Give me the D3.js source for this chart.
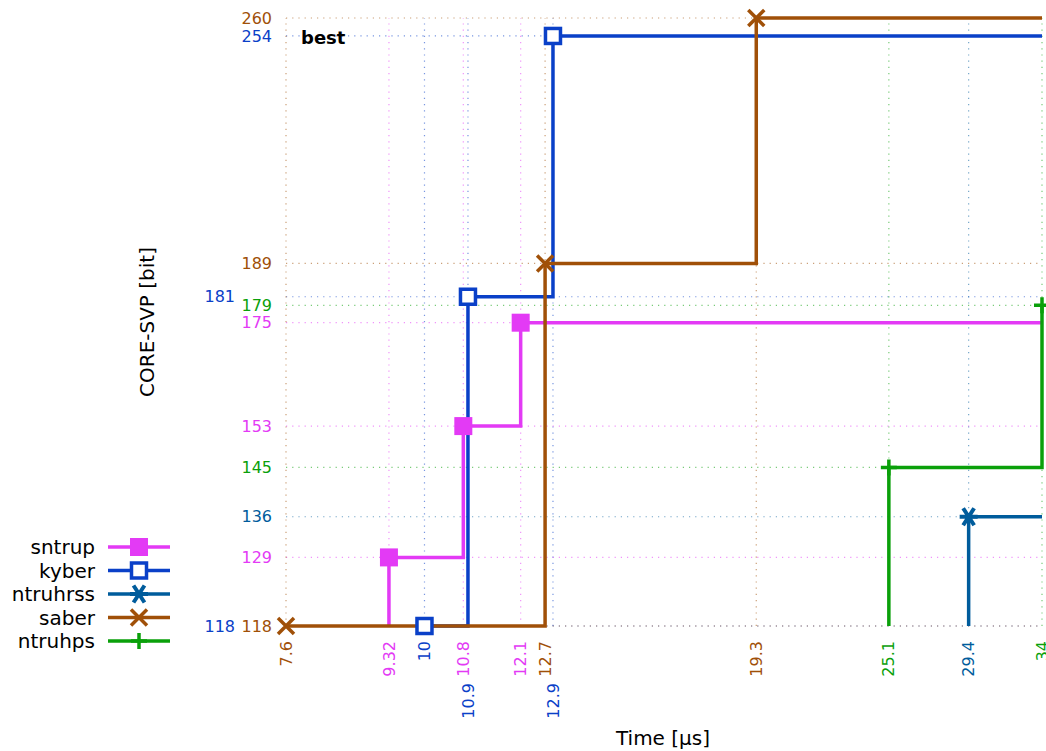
<!DOCTYPE html>
<html lang="en">
<head>
<meta charset="UTF-8">
<title>CORE-SVP vs time</title>
<script src="https://cdn.jsdelivr.net/npm/d3@7"></script>
<style>
    body { margin: 0; background: #fff; }
    svg text { font-family: "DejaVu Sans", sans-serif; }
    .grid { stroke-width: 1.2; stroke-dasharray: 1.2 5; fill: none; stroke-opacity: 0.55; }
    .front { fill: none; stroke-width: 3.5; stroke-linejoin: miter; }
</style>
</head>
<body>
<script>
    // series, in legend order
    const names = ["sntrup", "kyber", "ntruhrss", "saber", "ntruhps"]
    const colors = ["#e33af5", "#0a40c8", "#005c9c", "#a05008", "#0aa00a"]
    const symbols = ["square", "box", "star", "cross", "plus"]
    const times = [
        [9.32, 10.8, 12.1],
        [10, 10.9, 12.9],
        [29.4],
        [7.6, 12.7, 19.3],
        [25.1, 34]
    ]
    const bits = [
        [129, 153, 175],
        [118, 181, 254],
        [136],
        [118, 189, 260],
        [145, 179]
    ]
    const xTickLabels = [["9.32", "10.8", "12.1"], ["10", "10.9", "12.9"], ["29.4"], ["7.6", "12.7", "19.3"], ["25.1", "34"]]
    const drawOrder = [1, 0, 3, 2, 4]
    const labelOrder = [0, 3, 2, 4, 1]

    const W = 1046, H = 751
    const x = d3.scaleLog().domain([7.6, 34]).range([286, 1042])
    const y = d3.scaleLog().domain([118, 260]).range([626, 18])
    const xMax = x.domain()[1], yMin = y.domain()[0]

    const svg = d3.select("body").append("svg")
        .attr("width", W)
        .attr("height", H)

    // grid lines, one per point
    const grid = svg.append("g")
    drawOrder.forEach(i => {
        times[i].forEach((t, j) => {
            grid.append("line").attr("class", "grid").attr("stroke", colors[i])
                .attr("x1", x(t)).attr("x2", x(t)).attr("y1", y.range()[0]).attr("y2", y.range()[1])
            grid.append("line").attr("class", "grid").attr("stroke", colors[i])
                .attr("x1", x.range()[0]).attr("x2", x.range()[1]).attr("y1", y(bits[i][j])).attr("y2", y(bits[i][j]))
        })
    })

    // tick labels, shifted away when they would overlap
    const placedY = [], placedX = []
    labelOrder.forEach(i => {
        times[i].forEach((t, j) => {
            const b = bits[i][j]
            const py = y(b)
            const yShift = placedY.some(p => Math.abs(p - py) < 14) ? 37 : 0
            placedY.push(py)
            svg.append("text")
                .attr("x", 272 - yShift).attr("y", py).attr("dy", "0.35em")
                .attr("text-anchor", "end").attr("font-size", 16)
                .attr("fill", colors[i]).text(b)
            const px = x(t)
            const xShift = placedX.some(p => Math.abs(p - px) < 14) ? 42 : 0
            placedX.push(px)
            svg.append("text")
                .attr("transform", "translate(" + px + "," + (641 + xShift) + ") rotate(-90)")
                .attr("dy", "0.35em")
                .attr("text-anchor", "end").attr("font-size", 16)
                .attr("fill", colors[i]).text(xTickLabels[i][j])
        })
    })

    function marker(g, kind, color, cx, cy) {
        const m = g.append("g").attr("transform", "translate(" + cx + "," + cy + ")")
        if (kind === "square") {
            m.append("rect").attr("x", -9).attr("y", -9).attr("width", 18).attr("height", 18).attr("fill", color)
        } else if (kind === "box") {
            m.append("rect").attr("x", -7.5).attr("y", -7.5).attr("width", 15).attr("height", 15)
                .attr("fill", "#fff").attr("stroke", color).attr("stroke-width", 3.5)
        } else if (kind === "cross") {
            m.append("path").attr("d", "M-8,-8L8,8M-8,8L8,-8").attr("stroke", color).attr("stroke-width", 3.5)
        } else if (kind === "plus") {
            m.append("path").attr("d", "M-8,0L8,0M0,-8L0,8").attr("stroke", color).attr("stroke-width", 3.5)
        } else if (kind === "star") {
            m.append("path").attr("d", "M-9,0L9,0M-5.5,-8.5L5.5,8.5M-5.5,8.5L5.5,-8.5").attr("stroke", color).attr("stroke-width", 4)
        }
    }

    const line = d3.line().x(d => x(d[0])).y(d => y(d[1])).curve(d3.curveStepAfter)

    const fronts = svg.append("g")
    drawOrder.forEach(i => {
        const pts = times[i].map((t, j) => [t, bits[i][j]])
        const path = [[pts[0][0], yMin]].concat(pts, [[xMax, pts[pts.length - 1][1]]])
        fronts.append("path").attr("class", "front").attr("stroke", colors[i]).attr("d", line(path))
    })
    drawOrder.forEach(i => {
        times[i].forEach((t, j) => marker(fronts, symbols[i], colors[i], x(t), y(bits[i][j])))
    })

    svg.append("text").attr("x", 301).attr("y", 44)
        .attr("font-size", 18).attr("font-weight", "bold").text("best")

    // axis titles
    svg.append("text")
        .attr("transform", "translate(147,322) rotate(-90)")
        .attr("dy", "0.35em")
        .attr("text-anchor", "middle").attr("font-size", 20)
        .text("CORE-SVP [bit]")
    svg.append("text")
        .attr("x", 663).attr("y", 745)
        .attr("text-anchor", "middle").attr("font-size", 20)
        .text("Time [µs]")

    // legend
    const legend = svg.append("g")
    names.forEach((n, i) => {
        const ly = 547 + i * 23.5
        legend.append("text").attr("x", 95).attr("y", ly).attr("dy", "0.35em")
            .attr("text-anchor", "end").attr("font-size", 20).text(n)
        legend.append("line").attr("x1", 108).attr("x2", 170).attr("y1", ly).attr("y2", ly)
            .attr("stroke", colors[i]).attr("stroke-width", 3.5)
        marker(legend, symbols[i], colors[i], 139, ly)
    })
</script>
</body>
</html>
